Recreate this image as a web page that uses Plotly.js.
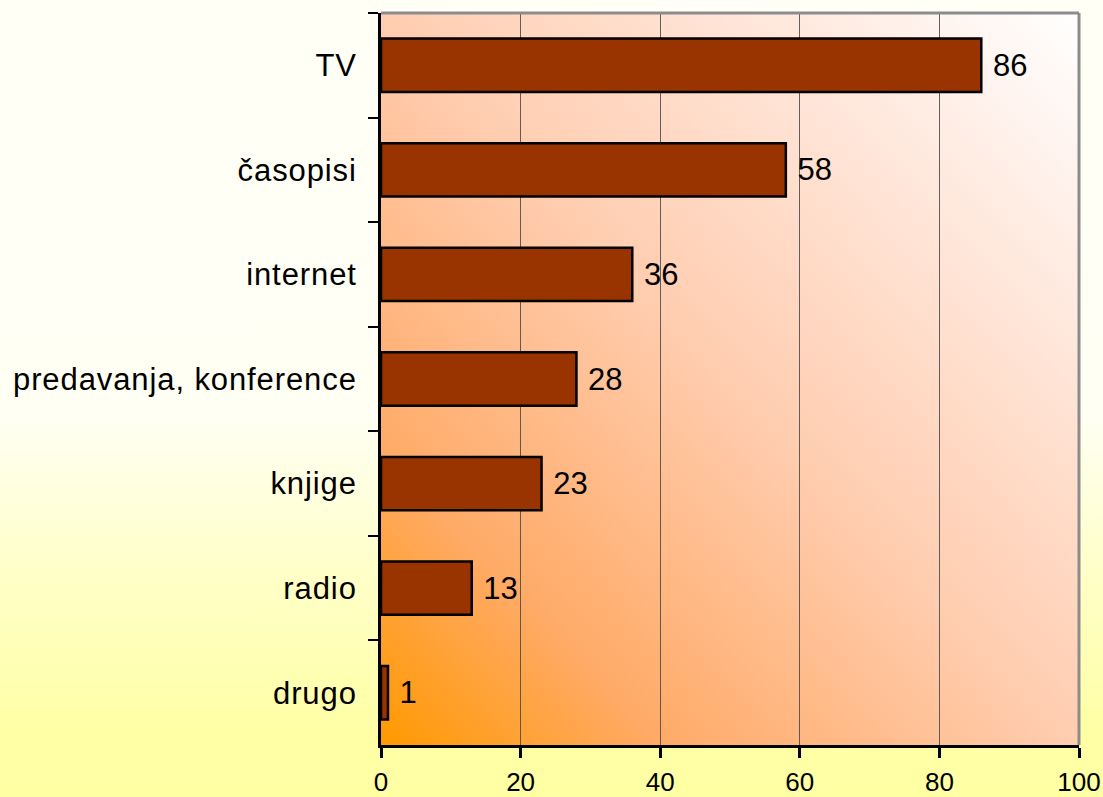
<!DOCTYPE html>
<html>
<head>
<meta charset="utf-8">
<script src="https://cdn.plot.ly/plotly-3.0.1.min.js"></script>
<style>
html,body{margin:0;padding:0;}
body{width:1103px;height:797px;overflow:hidden;
background:linear-gradient(to bottom,#FFFFF6 0%,#FFFFF4 52%,#FFFFC8 72%,#FFFFA6 92%,#FFFFA4 100%);}
#chart{width:1103px;height:797px;}
.ytick text{letter-spacing:0.9px;}
</style>
</head>
<body>
<div id="chart"></div>
<script>
const categories = ["TV", "časopisi", "internet", "predavanja, konference", "knjige", "radio", "drugo"];
const values = [86, 58, 36, 28, 23, 13, 1];
const xTicks = [0, 20, 40, 60, 80, 100];

const gradSvg = '<svg xmlns="http://www.w3.org/2000/svg" width="700" height="732" preserveAspectRatio="none">' +
  '<defs><linearGradient id="g" x1="0" y1="1" x2="1" y2="0">' +
  '<stop offset="0" stop-color="#FF9900"/>' +
  '<stop offset="0.2" stop-color="#FFAA66"/>' +
  '<stop offset="0.5" stop-color="#FFCDB0"/>' +
  '<stop offset="0.8" stop-color="#FFEAE0"/>' +
  '<stop offset="1" stop-color="#FFFFFF"/>' +
  '</linearGradient></defs><rect width="700" height="732" fill="url(#g)"/></svg>';
const gradSrc = 'data:image/svg+xml;base64,' + btoa(gradSvg);

const font = 'Liberation Sans, Arial, sans-serif';

const trace = {
  type: 'bar',
  orientation: 'h',
  y: categories,
  x: values,
  marker: {color: '#993300', line: {color: '#000000', width: 2.5}},
  text: values.map(v => ' ' + v),
  texttemplate: '%{text}',
  textposition: 'outside',
  cliponaxis: false,
  textfont: {family: font, size: 31, color: '#000000'},
  hoverinfo: 'none'
};

const layout = {
  width: 1103, height: 797,
  margin: {l: 381, r: 24, t: 13, b: 52, pad: 0},
  paper_bgcolor: 'rgba(0,0,0,0)',
  plot_bgcolor: 'rgba(0,0,0,0)',
  showlegend: false,
  bargap: 0.49,
  font: {family: font, color: '#000000'},
  xaxis: {
    range: [0, 100],
    tickvals: xTicks,
    ticktext: xTicks.map(String),
    showgrid: true, gridcolor: 'rgba(70,70,70,0.85)', gridwidth: 1,
    zeroline: false,
    showline: true, linecolor: '#000000', linewidth: 3,
    ticks: 'outside', ticklen: 10, tickwidth: 3, tickcolor: '#000000',
    tickfont: {family: font, size: 26, color: '#000000'},
    ticklabelstandoff: 2,
    fixedrange: true
  },
  yaxis: {
    type: 'category',
    categoryorder: 'array',
    categoryarray: categories,
    autorange: 'reversed',
    showgrid: false, zeroline: false,
    showline: true, linecolor: '#000000', linewidth: 3,
    ticks: 'outside', ticklen: 10, tickwidth: 2, tickcolor: '#000000',
    tickson: 'boundaries',
    tickfont: {family: font, size: 31, color: '#000000'},
    ticklabelstandoff: 15,
    fixedrange: true
  },
  images: [{
    source: gradSrc, xref: 'paper', yref: 'paper',
    x: 0, y: 1, sizex: 1, sizey: 1, xanchor: 'left', yanchor: 'top',
    sizing: 'stretch', layer: 'below'
  }],
  shapes: [
    {type: 'line', xref: 'paper', yref: 'paper', x0: 0, x1: 1, y0: 1, y1: 1,
     line: {color: '#8C8C8C', width: 3}, layer: 'above'},
    {type: 'line', xref: 'paper', yref: 'paper', x0: 1, x1: 1, y0: 0, y1: 1,
     line: {color: '#8C8C8C', width: 3}, layer: 'above'}
  ]
};

Plotly.newPlot('chart', [trace], layout, {displayModeBar: false, staticPlot: true});
</script>
</body>
</html>
